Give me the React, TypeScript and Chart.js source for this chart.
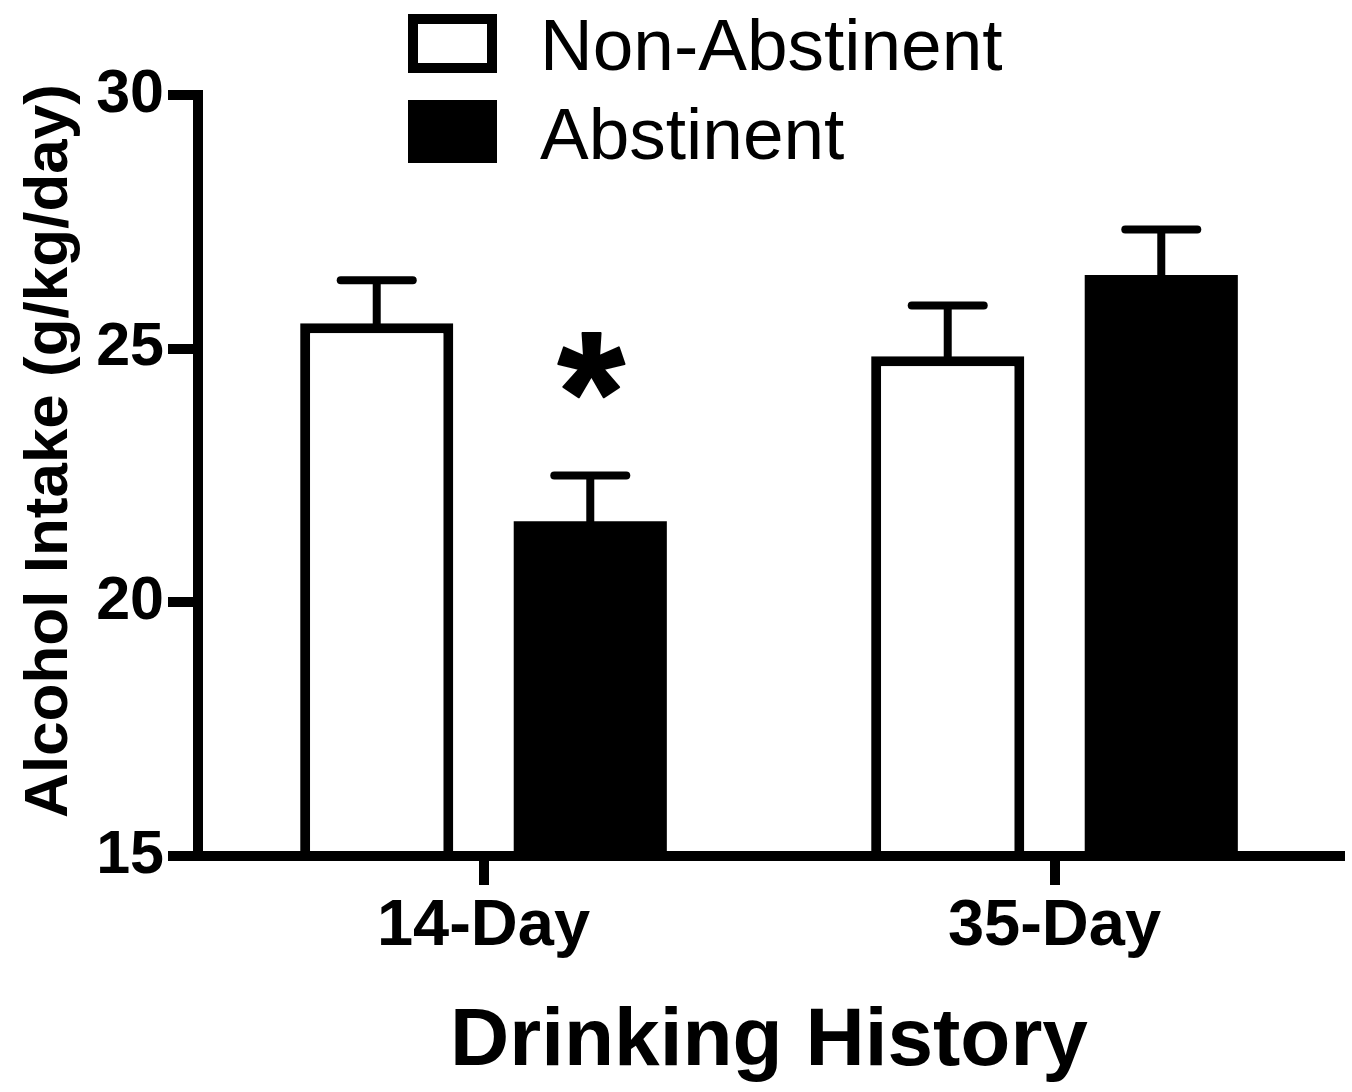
import React, { useEffect, useRef } from "react";
import { Chart, registerables } from "chart.js";

Chart.register(...registerables);

const categories = ["14-Day", "35-Day"];
const seriesNames = ["Non-Abstinent", "Abstinent"];
const nonAbstinentMeans = [25.5, 24.85];
const nonAbstinentSem = [0.85, 1.0];
const abstinentMeans = [21.6, 26.45];
const abstinentSem = [0.9, 0.9];
const abstinentMarks = ["*", ""];
const nonAbstinentMarks = ["", ""];
const yMin = 15;
const yMax = 30;
const yStep = 5;
const yTitle = "Alcohol Intake (g/kg/day)";
const xTitle = "Drinking History";

const FONT = "'Liberation Sans', Arial, Helvetica, sans-serif";

const errorBarPlugin = {
  id: "errorBars",
  afterDatasetsDraw(chart: any) {
    const ctx = chart.ctx;
    const yScale = chart.scales.y;
    chart.data.datasets.forEach((ds: any, i: number) => {
      const meta = chart.getDatasetMeta(i);
      meta.data.forEach((bar: any, j: number) => {
        const top = yScale.getPixelForValue(ds.data[j] + ds.errors[j]);
        ctx.save();
        ctx.strokeStyle = "#000";
        ctx.lineWidth = 8;
        ctx.lineCap = "butt";
        ctx.beginPath();
        ctx.moveTo(bar.x, bar.y + 2);
        ctx.lineTo(bar.x, top);
        ctx.stroke();
        ctx.lineCap = "round";
        ctx.beginPath();
        ctx.moveTo(bar.x - 36, top);
        ctx.lineTo(bar.x + 36, top);
        ctx.stroke();
        const mark = ds.marks ? ds.marks[j] : "";
        if (mark) {
          ctx.fillStyle = "#000";
          ctx.strokeStyle = "#000";
          ctx.lineWidth = 2;
          ctx.lineJoin = "round";
          ctx.font = `bold 172px ${FONT}`;
          ctx.textAlign = "center";
          ctx.textBaseline = "alphabetic";
          ctx.fillText(mark, bar.x + 1, top - 24);
          ctx.strokeText(mark, bar.x + 1, top - 24);
        }
        ctx.restore();
      });
    });
  },
};

const decorPlugin = {
  id: "decor",
  afterDraw(chart: any) {
    const ctx = chart.ctx;
    ctx.save();
    // y axis title
    ctx.fillStyle = "#000";
    ctx.font = `bold 62px ${FONT}`;
    ctx.textAlign = "center";
    ctx.textBaseline = "alphabetic";
    ctx.translate(67, 451);
    ctx.rotate(-Math.PI / 2);
    ctx.fillText(yTitle, 0, 0);
    ctx.restore();

    // legend (stacked)
    ctx.save();
    const rows = [
      { y: 14, h: 59, base: 70 },
      { y: 100, h: 63, base: 159 },
    ];
    chart.data.datasets.forEach((ds: any, i: number) => {
      const r = rows[i];
      ctx.fillStyle = "#000";
      ctx.fillRect(408, r.y, 89, r.h);
      if (ds.backgroundColor !== "#000000") {
        ctx.fillStyle = ds.backgroundColor;
        ctx.fillRect(418, r.y + 10, 69, r.h - 20);
      }
      ctx.fillStyle = "#000";
      ctx.font = `73px ${FONT}`;
      ctx.textAlign = "left";
      ctx.textBaseline = "alphabetic";
      ctx.fillText(ds.label, 540, r.base);
    });
    ctx.restore();
  },
};

export default function App() {
  const canvasRef = useRef<HTMLCanvasElement | null>(null);

  useEffect(() => {
    if (!canvasRef.current) return;
    const chart = new Chart(canvasRef.current, {
      type: "bar",
      data: {
        labels: categories,
        datasets: [
          {
            label: seriesNames[0],
            data: nonAbstinentMeans,
            errors: nonAbstinentSem,
            marks: nonAbstinentMarks,
            backgroundColor: "#ffffff",
            borderColor: "#000000",
            borderWidth: 10,
            borderSkipped: "start",
            categoryPercentage: 0.748,
            barPercentage: 0.717,
          } as any,
          {
            label: seriesNames[1],
            data: abstinentMeans,
            errors: abstinentSem,
            marks: abstinentMarks,
            backgroundColor: "#000000",
            borderColor: "#000000",
            borderWidth: 0,
            borderSkipped: "start",
            categoryPercentage: 0.748,
            barPercentage: 0.717,
          } as any,
        ],
      },
      options: {
        responsive: true,
        maintainAspectRatio: false,
        animation: false,
        layout: { padding: { top: 95, right: 12, left: 0, bottom: 0 } },
        plugins: {
          legend: { display: false },
          tooltip: { enabled: false },
          title: { display: false },
        },
        scales: {
          x: {
            grid: {
              offset: false,
              drawOnChartArea: false,
              drawTicks: true,
              tickLength: 29,
              lineWidth: 10,
              color: "#000",
            },
            border: { display: true, color: "#000", width: 10, z: 1 },
            ticks: {
              color: "#000",
              font: { family: FONT, size: 65, weight: "bold" },
              padding: 3,
              maxRotation: 0,
            },
            title: {
              display: true,
              text: xTitle,
              color: "#000",
              font: { family: FONT, size: 82, weight: "bold" },
              padding: { top: 0, bottom: 0 },
            },
            afterFit: (scale: any) => {
              scale.height = 236;
            },
          },
          y: {
            min: yMin,
            max: yMax,
            grid: {
              drawOnChartArea: false,
              drawTicks: true,
              tickLength: 30,
              lineWidth: 10,
              color: "#000",
            },
            border: { display: true, color: "#000", width: 10, z: 1 },
            ticks: {
              stepSize: yStep,
              color: "#000",
              font: { family: FONT, size: 61, weight: "bold" },
              padding: 4,
            },
            afterFit: (scale: any) => {
              scale.width = 198;
            },
          },
        },
      },
      plugins: [errorBarPlugin, decorPlugin],
    } as any);
    return () => chart.destroy();
  }, []);

  return (
    <div style={{ position: "absolute", left: 0, top: 0, width: 1352, height: 1092, background: "#fff" }}>
      <canvas ref={canvasRef} />
    </div>
  );
}
